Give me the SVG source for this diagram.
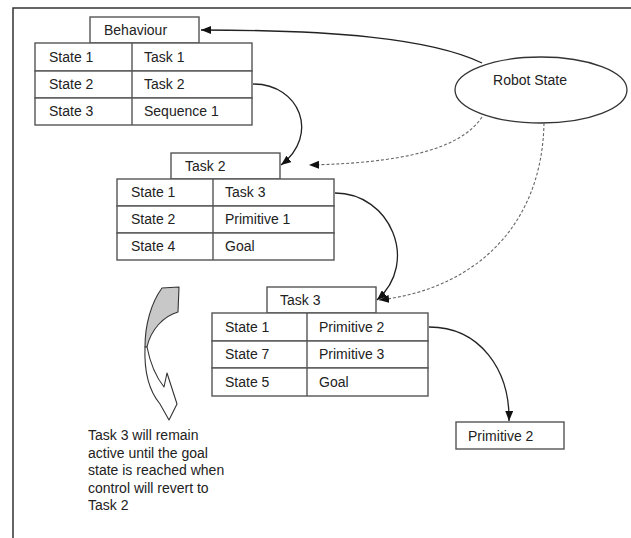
<svg xmlns="http://www.w3.org/2000/svg" width="631" height="538" viewBox="0 0 631 538">
  <style>
    .cell { fill: #ffffff; stroke: #555555; stroke-width: 1.4; }
    .txt { font-family: "Liberation Sans", Arial, sans-serif; font-size: 14px; fill: #222222; }
    .link { fill: none; stroke: #222222; stroke-width: 1.3; }
    .dash { fill: none; stroke: #666666; stroke-width: 1.1; stroke-dasharray: 3 2; }
    .frame { fill: none; stroke: #333333; stroke-width: 1.5; }
  </style>
  <defs>
    <marker id="head" markerUnits="userSpaceOnUse" markerWidth="10" markerHeight="8" refX="10" refY="4" orient="auto">
      <path d="M0,0 L10,4 L0,8 z" fill="#111111"/>
    </marker>
  </defs>

  <rect width="631" height="538" fill="#ffffff"/>
  <!-- page frame -->
  <path class="frame" d="M13,538 L13,8 L631,8"/>

  <!-- Behaviour table -->
  <g id="behaviour">
    <rect class="cell" x="90" y="17" width="109" height="26"/>
    <text class="txt" x="104" y="35">Behaviour</text>
    <rect class="cell" x="35" y="43" width="217" height="28"/>
    <rect class="cell" x="35" y="71" width="217" height="27"/>
    <rect class="cell" x="35" y="98" width="217" height="27"/>
    <line class="cell" x1="132" y1="43" x2="132" y2="125"/>
    <text class="txt" x="49" y="62">State 1</text>
    <text class="txt" x="144" y="62">Task 1</text>
    <text class="txt" x="49" y="89">State 2</text>
    <text class="txt" x="144" y="89">Task 2</text>
    <text class="txt" x="49" y="116">State 3</text>
    <text class="txt" x="144" y="116">Sequence 1</text>
  </g>

  <!-- Task 2 table -->
  <g id="task2">
    <rect class="cell" x="171" y="153" width="109" height="26"/>
    <text class="txt" x="185" y="171">Task 2</text>
    <rect class="cell" x="117" y="179" width="217" height="27"/>
    <rect class="cell" x="117" y="206" width="217" height="27"/>
    <rect class="cell" x="117" y="233" width="217" height="27"/>
    <line class="cell" x1="213" y1="179" x2="213" y2="260"/>
    <text class="txt" x="131" y="197">State 1</text>
    <text class="txt" x="225" y="197">Task 3</text>
    <text class="txt" x="131" y="224">State 2</text>
    <text class="txt" x="225" y="224">Primitive 1</text>
    <text class="txt" x="131" y="251">State 4</text>
    <text class="txt" x="225" y="251">Goal</text>
  </g>

  <!-- Task 3 table -->
  <g id="task3">
    <rect class="cell" x="267" y="287" width="109" height="26"/>
    <text class="txt" x="280" y="305">Task 3</text>
    <rect class="cell" x="212" y="313" width="216" height="28"/>
    <rect class="cell" x="212" y="341" width="216" height="27"/>
    <rect class="cell" x="212" y="368" width="216" height="28"/>
    <line class="cell" x1="307" y1="313" x2="307" y2="396"/>
    <text class="txt" x="225" y="332">State 1</text>
    <text class="txt" x="319" y="332">Primitive 2</text>
    <text class="txt" x="225" y="359">State 7</text>
    <text class="txt" x="319" y="359">Primitive 3</text>
    <text class="txt" x="225" y="387">State 5</text>
    <text class="txt" x="319" y="387">Goal</text>
  </g>

  <!-- Primitive 2 box -->
  <g id="primitive2">
    <rect class="cell" x="456" y="422" width="108" height="27"/>
    <text class="txt" x="468" y="441">Primitive 2</text>
  </g>

  <!-- Robot State ellipse -->
  <g id="robot-state">
    <ellipse cx="541" cy="90" rx="86" ry="33" fill="#ffffff" stroke="#333333" stroke-width="1.3"/>
    <text class="txt" x="530" y="85" text-anchor="middle">Robot State</text>
  </g>

  <!-- curved "return" arrow: shaded back face on top, white front face with head below -->
  <g id="return-arrow" stroke="#333333" stroke-width="1.1" stroke-linejoin="round">
    <path d="M162,288 L179,287 L178,312 C164,316 151,329 147,347 L145,347 C145,325 151,303 162,288 z" fill="#c8c8c8"/>
    <path d="M145,347 C144,372 150,392 160,404 L169,420 L177,404 L167,373 L164,387 C156,377 150,362 147,347 z" fill="#ffffff"/>
  </g>

  <!-- annotation -->
  <g id="note">
    <text class="txt" x="88" y="440">Task 3 will remain</text>
    <text class="txt" x="88" y="457.5">active until the goal</text>
    <text class="txt" x="88" y="475">state is reached when</text>
    <text class="txt" x="88" y="492.5">control will revert to</text>
    <text class="txt" x="88" y="510">Task 2</text>
  </g>

  <!-- connectors -->
  <g id="connectors">
    <path class="link" d="M482,63 C430,38 330,30 201,30" marker-end="url(#head)"/>
    <path class="link" d="M253,84 C300,84 320,135 281,165" marker-end="url(#head)"/>
    <path class="dash" d="M482,117 C460,150 400,163 309,165" marker-end="url(#head)"/>
    <path class="link" d="M335,193 C390,193 420,262 377,300" marker-end="url(#head)"/>
    <path class="dash" d="M544,123 C542,230 470,290 379,300" marker-end="url(#head)"/>
    <path class="link" d="M429,327 C480,327 510,370 509,421" marker-end="url(#head)"/>
  </g>
</svg>
